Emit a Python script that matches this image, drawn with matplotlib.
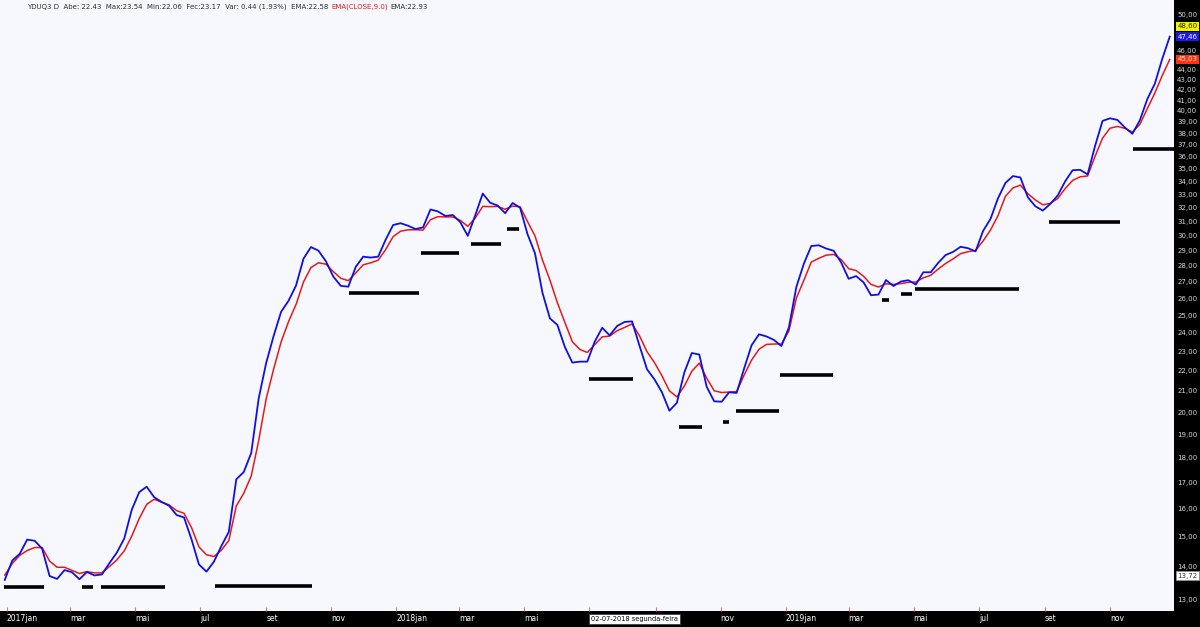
import numpy as np
import pandas as pd
import matplotlib
matplotlib.use("Agg")
import matplotlib.pyplot as plt
import matplotlib.dates as mdates
from matplotlib.ticker import FixedLocator, NullLocator

# weekly closes of the two moving averages
weeks = pd.date_range("2016-12-30", periods=157, freq="W-FRI")

ema_fast = [
    13.59, 14.21, 14.43, 14.91, 14.87, 14.60, 13.71, 13.62, 13.90, 13.83,
    13.61, 13.84, 13.73, 13.76, 14.12, 14.47, 14.95, 15.97, 16.63, 16.84,
    16.44, 16.26, 16.12, 15.78, 15.69, 14.92, 14.08, 13.85, 14.17, 14.69,
    15.18, 17.13, 17.42, 18.20, 20.64, 22.39, 23.83, 25.19, 25.84, 26.76,
    28.47, 29.24, 29.00, 28.30, 27.31, 26.74, 26.69, 27.94, 28.60, 28.54,
    28.60, 29.74, 30.76, 30.89, 30.71, 30.48, 30.59, 31.88, 31.74, 31.41,
    31.48, 30.96, 30.00, 31.46, 33.07, 32.38, 32.17, 31.61, 32.36, 32.02,
    30.12, 28.82, 26.32, 24.81, 24.44, 23.23, 22.41, 22.46, 22.46, 23.52,
    24.28, 23.86, 24.38, 24.61, 24.64, 23.29, 22.07, 21.56, 20.93, 20.06,
    20.43, 21.91, 22.91, 22.83, 21.19, 20.50, 20.48, 20.93, 20.90, 22.10,
    23.32, 23.92, 23.80, 23.61, 23.28, 24.30, 26.67, 28.14, 29.31, 29.36,
    29.14, 28.99, 28.22, 27.18, 27.35, 26.96, 26.17, 26.21, 27.10, 26.73,
    27.01, 27.09, 26.82, 27.59, 27.59, 28.20, 28.71, 28.92, 29.26, 29.16,
    28.95, 30.34, 31.20, 32.71, 33.89, 34.43, 34.32, 32.79, 32.12, 31.80,
    32.29, 32.93, 34.02, 34.90, 34.93, 34.56, 36.90, 39.09, 39.33, 39.18,
    38.50, 37.95, 39.15, 41.11, 42.58, 45.10, 47.46,
]

ema_close9 = [
    13.74, 14.11, 14.38, 14.54, 14.64, 14.64, 14.19, 13.99, 13.99, 13.89,
    13.79, 13.85, 13.81, 13.81, 14.01, 14.23, 14.53, 15.03, 15.65, 16.17,
    16.36, 16.25, 16.15, 15.94, 15.84, 15.33, 14.66, 14.40, 14.34, 14.55,
    14.88, 16.11, 16.59, 17.26, 18.73, 20.61, 22.08, 23.50, 24.63, 25.62,
    26.98, 27.89, 28.20, 28.11, 27.63, 27.21, 27.06, 27.55, 28.07, 28.20,
    28.37, 29.07, 29.95, 30.33, 30.42, 30.43, 30.40, 31.14, 31.36, 31.34,
    31.34, 31.09, 30.67, 31.26, 32.11, 32.09, 32.11, 31.90, 32.13, 32.08,
    31.01, 30.00, 28.38, 27.10, 25.72, 24.58, 23.52, 23.10, 22.94, 23.36,
    23.78, 23.82, 24.12, 24.30, 24.50, 23.83, 22.98, 22.41, 21.74, 21.00,
    20.71, 21.23, 21.97, 22.38, 21.62, 21.00, 20.92, 20.94, 20.96, 21.77,
    22.54, 23.11, 23.37, 23.39, 23.39, 24.10, 26.00, 27.08, 28.25, 28.49,
    28.70, 28.75, 28.41, 27.82, 27.70, 27.34, 26.83, 26.67, 26.87, 26.83,
    26.88, 26.96, 26.98, 27.24, 27.40, 27.80, 28.16, 28.46, 28.80, 28.93,
    29.01, 29.65, 30.41, 31.43, 32.87, 33.50, 33.72, 33.06, 32.59, 32.23,
    32.33, 32.70, 33.45, 34.09, 34.37, 34.44, 36.03, 37.57, 38.44, 38.60,
    38.43, 38.10, 38.78, 40.22, 41.68, 43.40, 45.03,
]

# black support levels
seg_start = ["2016-12-29", "2017-03-12", "2017-03-30", "2017-07-15", "2017-11-18",
             "2018-01-24", "2018-03-12", "2018-04-15", "2018-07-01", "2018-09-23",
             "2018-11-03", "2018-11-15", "2018-12-27", "2019-04-01", "2019-04-19",
             "2019-05-02", "2019-09-05", "2019-11-23"]
seg_end = ["2017-02-05", "2017-03-23", "2017-05-29", "2017-10-14", "2018-01-22",
           "2018-03-01", "2018-04-09", "2018-04-26", "2018-08-11", "2018-10-15",
           "2018-11-09", "2018-12-26", "2019-02-14", "2019-04-08", "2019-04-29",
           "2019-08-08", "2019-11-10", "2020-01-05"]
seg_level = [13.38, 13.38, 13.38, 13.41, 26.29, 28.82, 29.45, 30.46, 21.58, 19.34,
             19.53, 20.03, 21.78, 25.88, 26.23, 26.57, 30.95, 36.65]

month_ticks = pd.date_range("2017-01-01", "2019-11-01", freq="2MS")
month_names = {1: "jan", 3: "mar", 5: "mai", 7: "jul", 9: "set", 11: "nov"}
# jul/set 2018 sit under the cursor date box in the original
hidden = {pd.Timestamp("2018-07-01"), pd.Timestamp("2018-09-01")}
month_labels = ["" if d in hidden else (f"{d.year}jan" if d.month == 1 else month_names[d.month])
                for d in month_ticks]

price_ticks = list(range(13, 51))
covered = {45, 47, 48, 49}   # under the value tags
tags = [(48.60, "48,60", "#f2f200", "#202020"),
        (47.46, "47,46", "#1a1ae6", "white"),
        (45.03, "45,03", "#ff3311", "#ffe8c8"),
        (13.72, "13,72", "white", "#303030")]

fig = plt.figure(figsize=(12, 6.27), dpi=100, facecolor="black")
ax = fig.add_axes([0, 16 / 627, 1174 / 1200, 611 / 627], facecolor="#f7f8fd")
ax.set_yscale("log")

ax.plot(weeks, ema_close9, color="#e81818", lw=1.1, zorder=3)
ax.plot(weeks, ema_fast, color="#1010e0", lw=1.3, zorder=4)
ax.hlines(seg_level, mdates.date2num(pd.to_datetime(seg_start)),
          mdates.date2num(pd.to_datetime(seg_end)), color="black", lw=2.6, zorder=5)

ax.set_xlim(pd.Timestamp("2016-12-25 12:00"), pd.Timestamp("2019-12-31"))
ax.set_ylim(12.65, 51.64)

ax.yaxis.set_major_locator(FixedLocator(price_ticks))
ax.yaxis.set_minor_locator(NullLocator())
ax.set_yticklabels(["" if v in covered else f"{v},00" for v in price_ticks])
ax.yaxis.tick_right()
ax.tick_params(axis="y", length=0, pad=2.2, labelsize=5, labelcolor="#d8d8d8")

ax.set_xticks(mdates.date2num(month_ticks))
ax.set_xticklabels(month_labels, ha="left")
ax.xaxis.set_minor_locator(NullLocator())
ax.tick_params(axis="x", direction="in", length=3, color="#d07a7a", pad=2.5,
               labelsize=5.5, labelcolor="white")

for s in ax.spines.values():
    s.set_visible(False)

for v, txt, fc, tc in tags:
    ec = "#909090" if fc == "white" else "none"
    ax.text(1.003, v, txt, transform=ax.get_yaxis_transform(), fontsize=5, color=tc,
            va="center", ha="left", clip_on=False, zorder=6,
            bbox=dict(boxstyle="square,pad=0.2", fc=fc, ec=ec, lw=0.6))

# header line
t1 = fig.text(27 / 1200, 1 - 7 / 627,
              "YDUQ3 D  Abe: 22.43  Max:23.54  Min:22.06  Fec:23.17  Var: 0.44 (1.93%)  EMA:22.58",
              fontsize=5, color="#303030", va="center")
t2 = ax.annotate("EMA(CLOSE,9.0)", xy=(1, 0.5), xycoords=t1, xytext=(2, 0),
                 textcoords="offset points", va="center", fontsize=5, color="#e81818")
ax.annotate("EMA:22.93", xy=(1, 0.5), xycoords=t2, xytext=(2, 0),
            textcoords="offset points", va="center", fontsize=5, color="#303030")

# cursor date box
fig.text(591 / 1200, 8 / 627, "02-07-2018 segunda-feira", fontsize=4.8, color="black",
         va="center", ha="left",
         bbox=dict(boxstyle="square,pad=0.35", fc="white", ec="#404040", lw=0.6))

fig.savefig("out.png", dpi=100, facecolor=fig.get_facecolor())
